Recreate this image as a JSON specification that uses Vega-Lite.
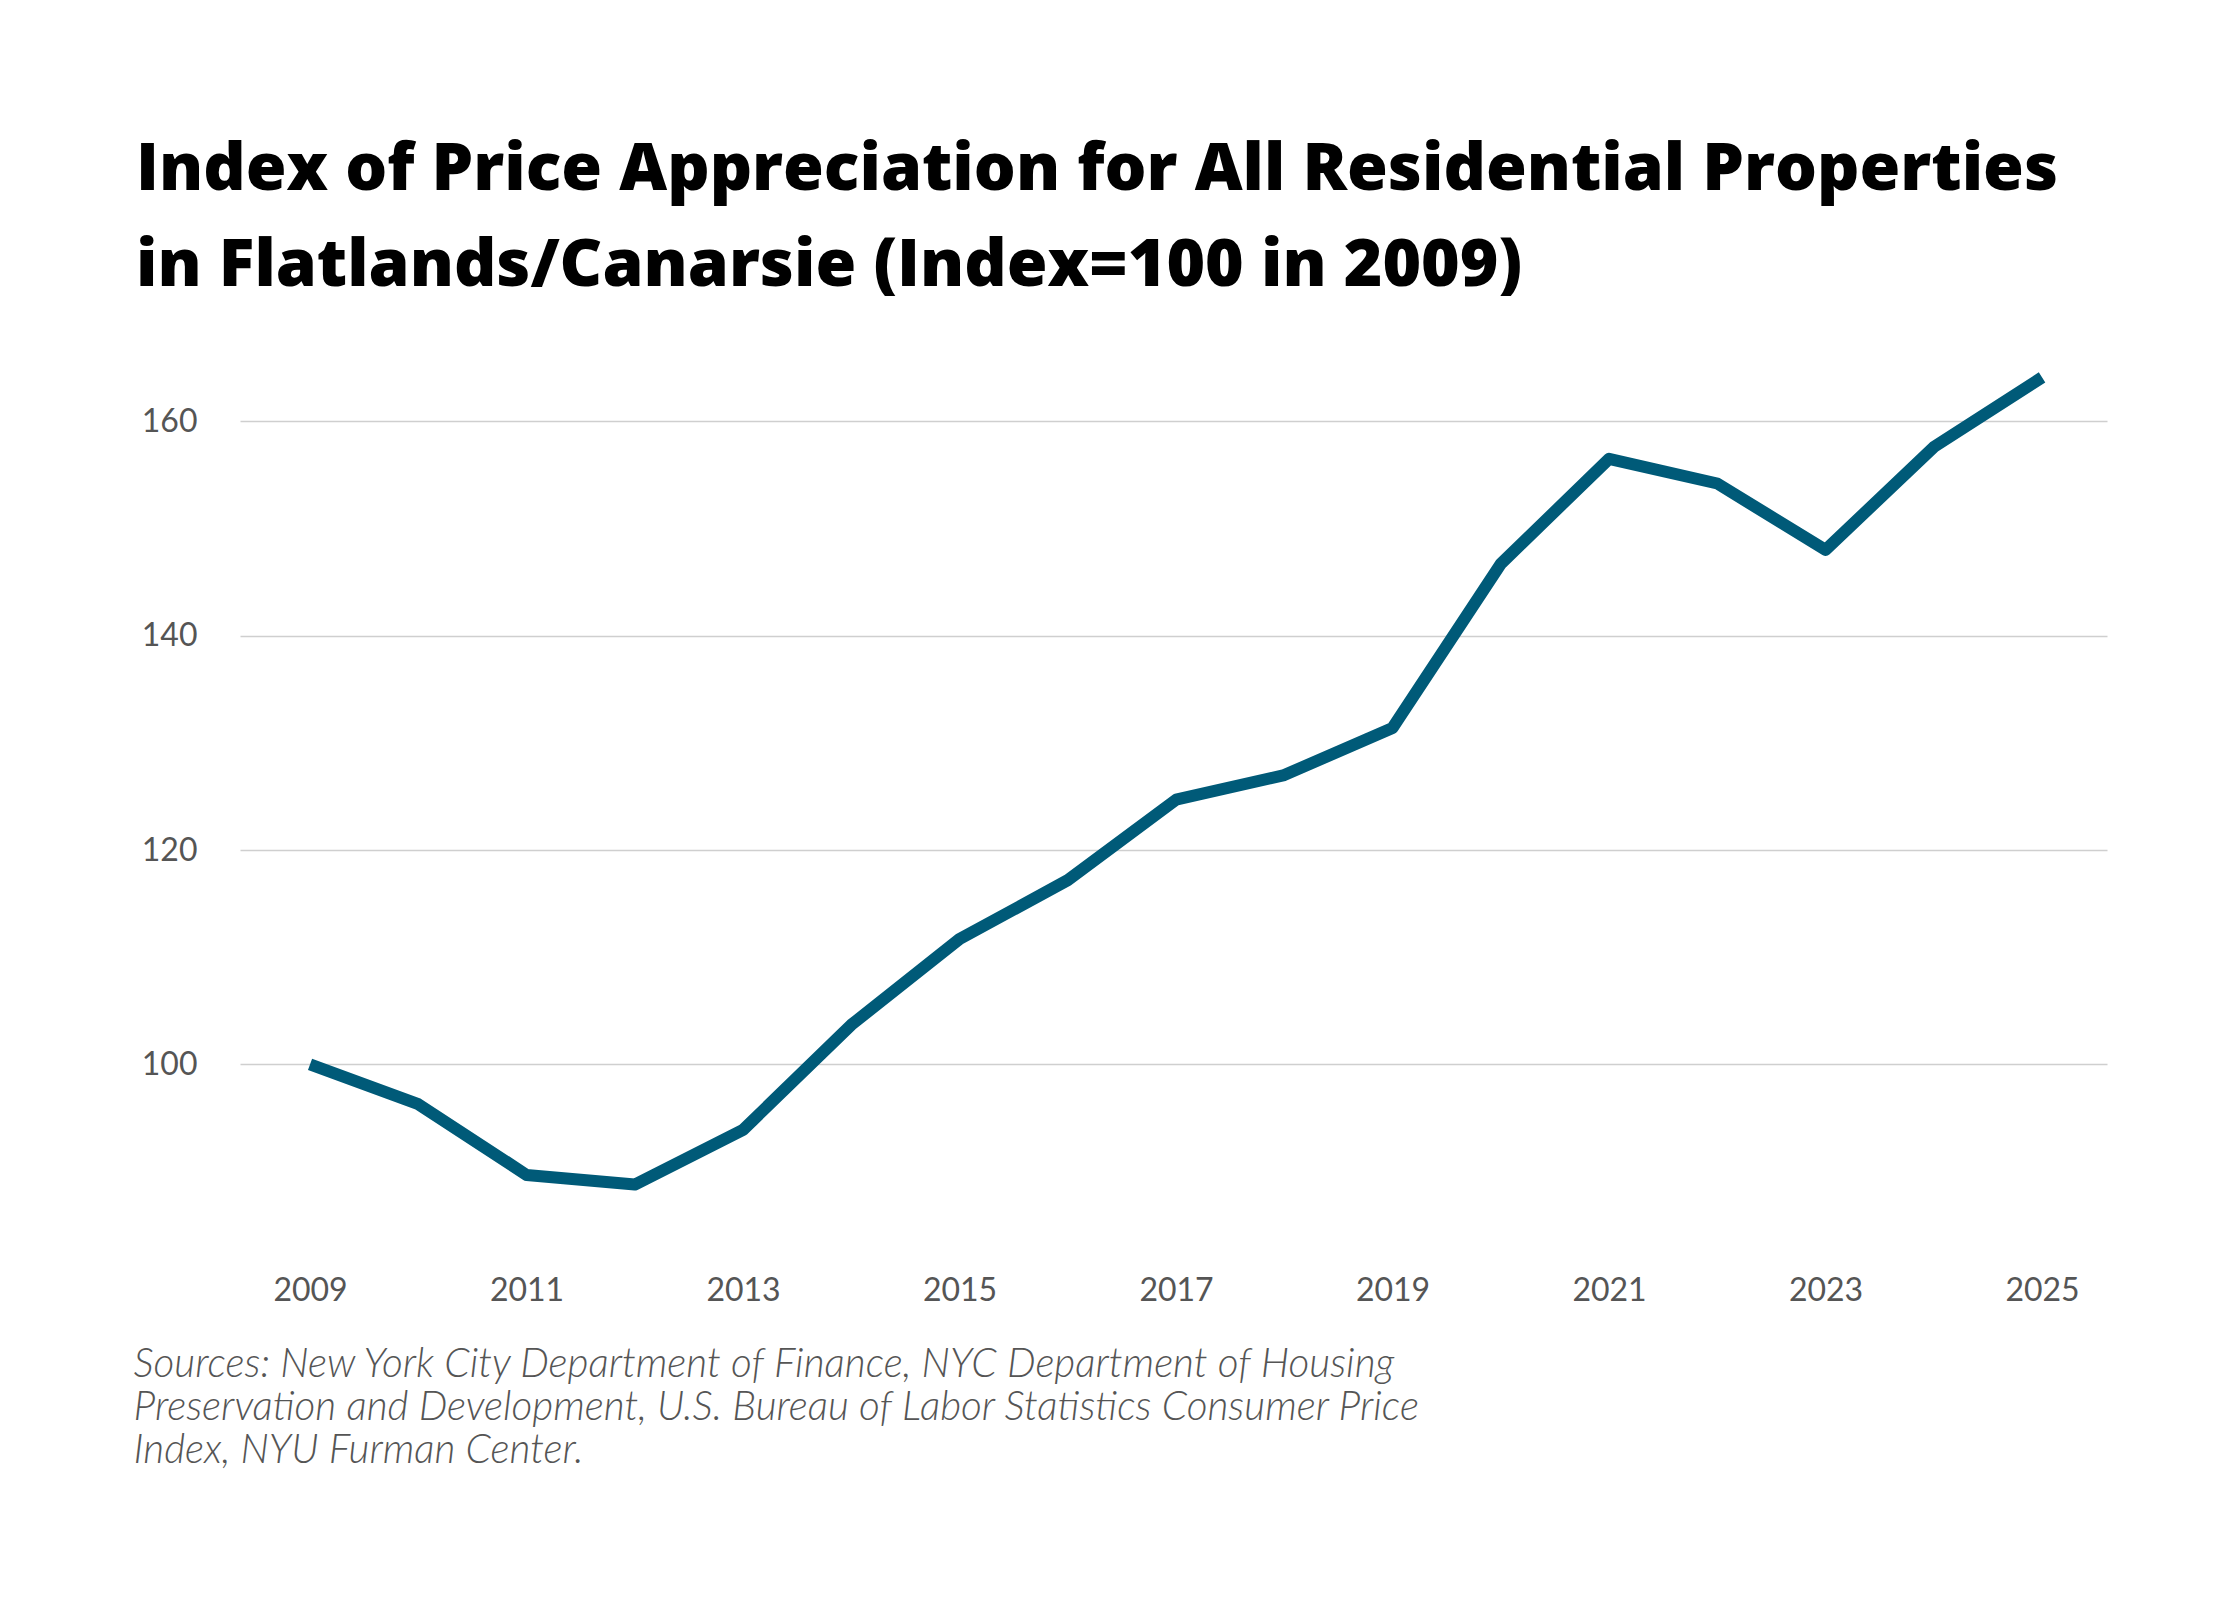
{
  "$schema": "https://vega.github.io/schema/vega-lite/v6.json",
  "autosize": {"type": "none"},
  "padding": {"left": 240, "top": 357, "right": 133, "bottom": 364},
  "width": 1867,
  "height": 879,
  "background": "white",
  "title": {
    "text": ["Index of Price Appreciation for All Residential Properties", "in Flatlands/Canarsie (Index=100 in 2009)"],
    "anchor": "start",
    "frame": "group",
    "dx": -104,
    "offset": 57,
    "font": "Open Sans",
    "fontSize": 66,
    "fontWeight": 800,
    "color": "#000000",
    "lineHeight": 96
  },
  "data": {
    "values": [
      {"year": 2009, "index": 100.0},
      {"year": 2010, "index": 96.3},
      {"year": 2011, "index": 89.7},
      {"year": 2012, "index": 88.8},
      {"year": 2013, "index": 93.9},
      {"year": 2014, "index": 103.7},
      {"year": 2015, "index": 111.7},
      {"year": 2016, "index": 117.2},
      {"year": 2017, "index": 124.7},
      {"year": 2018, "index": 127.0},
      {"year": 2019, "index": 131.4},
      {"year": 2020, "index": 146.7},
      {"year": 2021, "index": 156.5},
      {"year": 2022, "index": 154.2},
      {"year": 2023, "index": 148.0},
      {"year": 2024, "index": 157.6},
      {"year": 2025, "index": 164.1}
    ]
  },
  "mark": {"type": "line", "color": "#005a78", "strokeWidth": 12, "strokeCap": "butt", "strokeJoin": "round"},
  "encoding": {
    "x": {
      "field": "year",
      "type": "quantitative",
      "scale": {"domain": [2008.353, 2025.6], "nice": false, "zero": false},
      "axis": {
        "values": [2009, 2011, 2013, 2015, 2017, 2019, 2021, 2023, 2025],
        "format": "d",
        "grid": false,
        "domain": false,
        "ticks": false,
        "tickSize": 0,
        "labelPadding": 64,
        "labelBaseline": "alphabetic",
        "labelFont": "Lato",
        "labelFontSize": 32,
        "labelColor": "#555555",
        "labelFlush": false,
        "title": ["Sources: New York City Department of Finance, NYC Department of Housing", "Preservation and Development, U.S. Bureau of Labor Statistics Consumer Price", "Index, NYU Furman Center."],
        "titleFont": "Lato",
        "titleFontStyle": "italic",
        "titleFontWeight": 300,
        "titleFontSize": 40.5,
        "titleColor": "#555555",
        "titleLineHeight": 43,
        "titleAnchor": "start",
        "titleAlign": "left",
        "titleBaseline": "top",
        "titleX": -107,
        "titleY": 108
      }
    },
    "y": {
      "field": "index",
      "type": "quantitative",
      "scale": {"domain": [84, 166], "nice": false, "zero": false},
      "axis": {
        "values": [100, 120, 140, 160],
        "title": null,
        "domain": false,
        "ticks": false,
        "tickSize": 0,
        "labelPadding": 43,
        "labelFont": "Lato",
        "labelFontSize": 32,
        "labelColor": "#555555",
        "gridColor": "#cfcfcf",
        "gridWidth": 1.5
      }
    }
  },
  "config": {"view": {"stroke": null}}
}
